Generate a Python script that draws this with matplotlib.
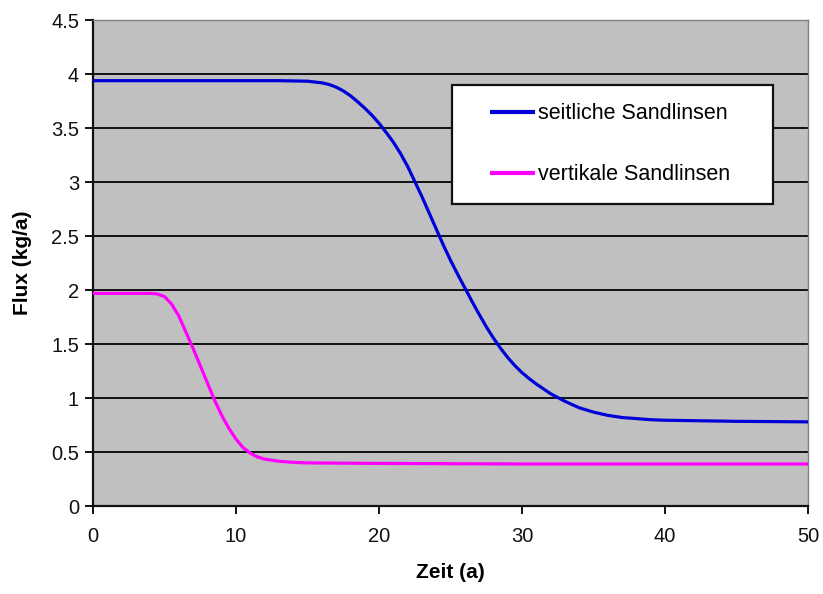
import matplotlib
matplotlib.use("Agg")
import matplotlib.pyplot as plt
from matplotlib.patches import Rectangle

plt.rcParams['font.family'] = ['Liberation Sans', 'DejaVu Sans']

# Flux over time for the two sand-lens configurations
zeit_seitlich = [0, 5, 10, 13, 15, 16, 16.5, 17, 17.5, 18, 18.5, 19, 19.5, 20, 20.5,
                 21, 21.5, 22, 22.5, 23, 23.5, 24, 24.5, 25, 25.5, 26, 26.5, 27,
                 27.5, 28, 28.5, 29, 29.5, 30, 30.5, 31, 31.5, 32, 33, 34, 35, 36,
                 37, 38, 39, 40, 45, 50]
flux_seitlich = [3.94, 3.94, 3.94, 3.94, 3.935, 3.92, 3.905, 3.88, 3.845, 3.80,
                 3.745, 3.685, 3.62, 3.545, 3.46, 3.37, 3.265, 3.145, 3.005, 2.865,
                 2.715, 2.565, 2.415, 2.275, 2.145, 2.02, 1.895, 1.775, 1.66, 1.555,
                 1.46, 1.375, 1.30, 1.235, 1.18, 1.13, 1.085, 1.04, 0.97, 0.91,
                 0.87, 0.84, 0.82, 0.81, 0.80, 0.795, 0.785, 0.78]

zeit_vertikal = [0, 4, 4.5, 5, 5.5, 6, 6.5, 7, 7.5, 8, 8.5, 9, 9.5, 10, 10.5, 11,
                 11.5, 12, 13, 14, 15, 20, 30, 40, 50]
flux_vertikal = [1.97, 1.97, 1.965, 1.94, 1.87, 1.76, 1.61, 1.46, 1.30, 1.14, 0.98,
                 0.84, 0.72, 0.62, 0.54, 0.49, 0.455, 0.435, 0.415, 0.405, 0.40,
                 0.395, 0.39, 0.39, 0.39]

y_ticks = [0, 0.5, 1, 1.5, 2, 2.5, 3, 3.5, 4, 4.5]
y_tick_labels = ["0", "0.5", "1", "1.5", "2", "2.5", "3", "3.5", "4", "4.5"]
x_ticks = [0, 10, 20, 30, 40, 50]

fig = plt.figure(figsize=(8.23, 5.94), dpi=100)
ax = fig.add_axes([0.113, 0.148, 0.869, 0.818])
ax.set_facecolor('#C0C0C0')

for yv in y_ticks[1:-1]:
    ax.axhline(yv, color='#111111', lw=1.4, zorder=1)

ax.plot(zeit_seitlich, flux_seitlich, color='#0000D8', lw=2.3,
        label='seitliche Sandlinsen', zorder=3, solid_capstyle='butt')
ax.plot(zeit_vertikal, flux_vertikal, color='#FF00FF', lw=2.3,
        label='vertikale Sandlinsen', zorder=3, solid_capstyle='butt')

ax.set_xlim(0, 50)
ax.set_ylim(0, 4.5)
ax.set_xticks(x_ticks)
ax.set_yticks(y_ticks)
ax.set_yticklabels(y_tick_labels)
ax.tick_params(direction='out', length=6, width=1.4, labelsize=14.5, colors='#111111')
ax.tick_params(axis='x', pad=9)
ax.tick_params(axis='y', pad=4)

for side in ['left', 'bottom']:
    ax.spines[side].set_color('#111111')
    ax.spines[side].set_linewidth(1.6)
for side in ['top', 'right']:
    ax.spines[side].set_color('#808080')
    ax.spines[side].set_linewidth(1.0)

ax.set_xlabel('Zeit (a)', fontsize=15, fontweight='bold')
ax.set_ylabel('Flux (kg/a)', fontsize=15, fontweight='bold')
ax.xaxis.set_label_coords(0.5, -0.117)
ax.yaxis.set_label_coords(-0.085, 0.5)

# Legend box drawn as a plain white rectangle with the entries placed inside
box = Rectangle((0.502, 0.621), 0.449, 0.245, transform=ax.transAxes,
                facecolor='white', edgecolor='#111111', lw=1.6, zorder=4)
ax.add_patch(box)
leg = ax.legend(loc='upper left', bbox_to_anchor=(0.555, 0.829), fontsize=15.5,
                frameon=False, handlelength=2.1, handletextpad=0.15,
                labelspacing=1.85, borderpad=0, borderaxespad=0)
for h in leg.get_lines():
    h.set_linewidth(3)
leg.set_zorder(5)

fig.savefig('out.png', dpi=100)
